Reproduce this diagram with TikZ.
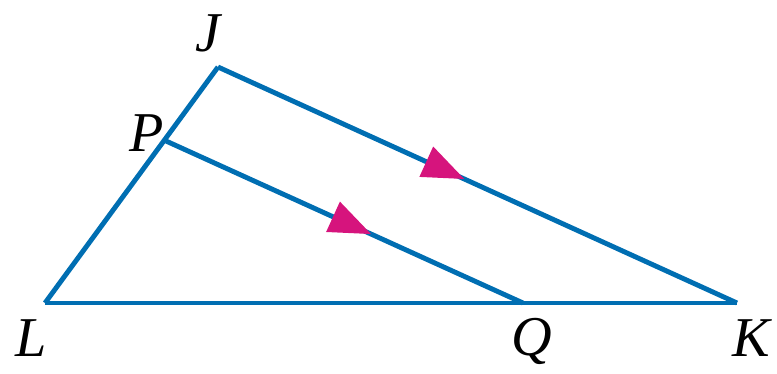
\documentclass[tikz,border=0pt]{standalone}
\usepackage{fontspec}
\setmainfont{Liberation Serif}
\usetikzlibrary{arrows.meta, decorations.markings}
\definecolor{lineblue}{RGB}{0,110,178}
\definecolor{markpink}{RGB}{214,20,125}

\begin{document}
\begin{tikzpicture}[x=0.02cm, y=0.02cm,
    side/.style={draw=lineblue, line width=2.8pt, line join=round},
    para/.style={postaction={decorate}, decoration={markings,
        mark=at position #1 with {\arrow{Triangle[length=0.84cm, width=0.64cm, color=markpink]}}}},
    lbl/.style={font=\fontsize{32}{32}\selectfont\itshape, inner sep=0pt}]
    \useasboundingbox (0,0) rectangle (777,373);

    % cac dinh cua tam giac
    \coordinate (L) at (45,70);
    \coordinate (J) at (218,306);
    \coordinate (K) at (737,70);
    \coordinate (P) at (166,232);
    \coordinate (Q) at (523,70);

    % tam giac LJK
    \draw[side] (L) -- (J);
    \draw[side] (L) -- (K);
    \draw[side, para=0.475] (J) -- (K);

    % doan PQ song song voi JK
    \draw[side, para=0.575] (P) -- (Q);

    % ten cac diem
    \node[lbl] (labJ) at (208,340) {J};
    \node[lbl] (labP) at (147,240) {P};
    \node[lbl] (labL) at (31,35) {L};
    \node[lbl] (labQ) at (532,32) {Q};
    \node[lbl] (labK) at (751,35) {K};
\end{tikzpicture}
\end{document}
